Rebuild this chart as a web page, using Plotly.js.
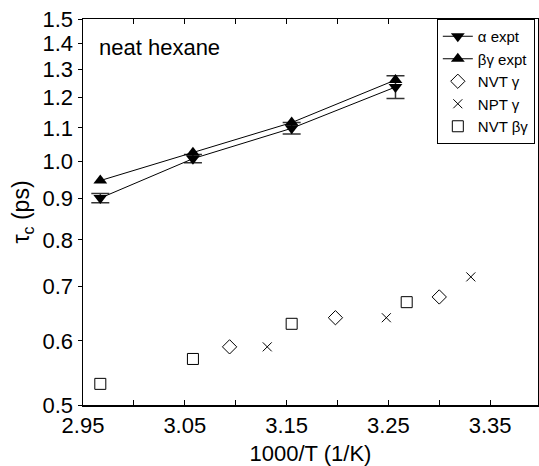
<!DOCTYPE html>
<html>
<head>
<meta charset="utf-8">
<script src="https://cdn.plot.ly/plotly-3.0.1.min.js"></script>
<style>html,body{margin:0;padding:0;background:#fff;}#chart{width:539px;height:466px;}</style>
</head>
<body>
<div id="chart"></div>
<script>
// Experimental data (1000/T in 1/K, tau_c in ps)
const xExpt = [2.967, 3.058, 3.155, 3.257];
const alphaExpt = [0.901, 1.008, 1.099, 1.236];
const alphaErr = [0.012, 0.012, 0.018, 0.04];
const bgExpt = [0.947, 1.025, 1.117, 1.261];

// Simulation data
const xNVTg = [3.094, 3.198, 3.300];
const yNVTg = [0.590, 0.641, 0.680];
const xNPTg = [3.131, 3.248, 3.331];
const yNPTg = [0.590, 0.641, 0.720];
const xNVTbg = [2.967, 3.058, 3.155, 3.268];
const yNVTbg = [0.531, 0.570, 0.630, 0.670];

// Tick labels
const xTickVals = [2.95, 3.05, 3.15, 3.25, 3.35];
const xTickText = ["2.95", "3.05", "3.15", "3.25", "3.35"];
const xMinorVals = [3.00, 3.10, 3.20, 3.30];
const yTickVals = [0.5, 0.6, 0.7, 0.8, 0.9, 1.0, 1.1, 1.2, 1.3, 1.4, 1.5];
const yTickText = ["0.5", "0.6", "0.7", "0.8", "0.9", "1.0", "1.1", "1.2", "1.3", "1.4", "1.5"];

const FONT = "Liberation Sans, Arial, sans-serif";

const traces = [
  {
    x: xExpt, y: alphaExpt, name: "α expt", mode: "lines+markers",
    line: {color: "black", width: 1},
    marker: {symbol: "triangle-down", size: 12, color: "black"},
    error_y: {type: "data", array: alphaErr, visible: true, color: "#333", thickness: 1.5, width: 9}
  },
  {
    x: xExpt, y: bgExpt, name: "βγ expt", mode: "lines+markers",
    line: {color: "black", width: 1},
    marker: {symbol: "triangle-up", size: 12, color: "black"}
  },
  {
    x: xNVTg, y: yNVTg, name: "NVT γ", mode: "markers",
    marker: {symbol: "diamond-open", size: 11, color: "black", line: {width: 1}}
  },
  {
    x: xNPTg, y: yNPTg, name: "NPT γ", mode: "markers",
    marker: {symbol: "x-thin-open", size: 9, color: "black", line: {width: 1, color: "black"}}
  },
  {
    x: xNVTbg, y: yNVTbg, name: "NVT βγ", mode: "markers",
    marker: {symbol: "square-open", size: 11, color: "black", line: {width: 1}}
  }
];

const layout = {
  width: 539, height: 466,
  margin: {l: 83, r: 1, t: 19, b: 61},
  paper_bgcolor: "white", plot_bgcolor: "white",
  font: {family: FONT, color: "black", size: 22},
  showlegend: true,
  legend: {
    x: 0.993, y: 1.0, xanchor: "right", yanchor: "top",
    bordercolor: "black", borderwidth: 1, bgcolor: "white",
    font: {family: FONT, size: 15, color: "black"},
    tracegroupgap: 0, itemwidth: 30
  },
  xaxis: {
    range: [2.95, 3.397],
    tickmode: "array", tickvals: xTickVals, ticktext: xTickText,
    ticks: "inside", ticklen: 5, tickwidth: 1, tickcolor: "black",
    minor: {tickmode: "array", tickvals: xMinorVals, ticks: "inside", ticklen: 5, tickwidth: 1, tickcolor: "black", showgrid: false},
    showline: true, linecolor: "black", linewidth: 1.5, mirror: "allticks",
    showgrid: false, zeroline: false,
    tickfont: {size: 22},
    title: {text: "1000/T (1/K)", font: {size: 22}, standoff: 12}
  },
  yaxis: {
    type: "log",
    range: [Math.log10(0.5), Math.log10(1.5)],
    tickmode: "array", tickvals: yTickVals, ticktext: yTickText,
    ticks: "outside", ticklen: 4, tickwidth: 1, tickcolor: "black",
    showline: true, linecolor: "black", linewidth: 1.5, mirror: true,
    showgrid: false, zeroline: false,
    tickfont: {size: 22},
    title: {text: "τ<sub>c</sub> (ps)", font: {size: 23}, standoff: 6}
  },
  annotations: [{
    xref: "paper", yref: "paper", x: 0.031, y: 0.927,
    xanchor: "left", yanchor: "middle", showarrow: false,
    text: "neat hexane", font: {family: FONT, size: 22, color: "black"}
  }]
};

Plotly.newPlot("chart", traces, layout, {displayModeBar: false, staticPlot: true});
</script>
</body>
</html>
